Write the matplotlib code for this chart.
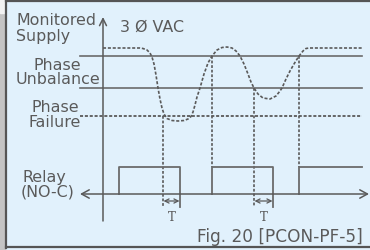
import matplotlib.pyplot as plt
from matplotlib.patches import Rectangle

plt.rcParams['lines.scale_dashes'] = False

# diagram drawn in a 370 x 251 coordinate frame (y grows downward)
supply_t = [103, 140, 143, 147, 150, 152, 154, 156, 158, 160, 162, 164, 167, 172, 178,
            184, 188, 191, 193, 195, 197, 200, 204, 208, 212, 217, 222, 227, 232, 236,
            240, 244, 248, 251, 254, 258, 263, 270, 276, 280, 282, 286, 290, 294, 299,
            303, 306, 309, 362]
supply_v = [49, 49, 49.5, 51, 54, 58, 65, 76, 89, 100, 109, 115, 119.5, 121.5, 122,
            121.5, 120, 117.5, 113, 106, 98, 89, 75, 64, 57, 51, 48.5, 48, 49, 52,
            57, 65, 75, 83, 89, 95, 99, 100, 97, 92, 89, 80, 72, 65, 57,
            52, 49.5, 49, 49]

unbalance_hi = 57
unbalance_lo = 89
failure_lvl = 117
levels_x = (80, 362)

relay_on = [119, 212, 299]
relay_off = [180, 273, 362]
relay_hi, relay_lo = 168, 195

events = [163, 212, 254, 299]          # dotted marker lines
event_top = [117, 57, 89, 57]
event_bottom = [208, 168, 208, 168]
delay_start = [163, 254]
delay_end = [180, 273]

ink = '#5a5a5a'
line_c = '#6b6b6b'
bg = '#e1f1fc'

fig = plt.figure(figsize=(3.70, 2.51), dpi=100)
ax = fig.add_axes([0, 0, 1, 1])
ax.set_xlim(0, 370)
ax.set_ylim(251, 0)
ax.axis('off')

# background and frame
ax.add_patch(Rectangle((0, 0), 370, 251, color=bg, zorder=0))
ax.add_patch(Rectangle((0, 0), 5, 251, color='#c4c4c4', zorder=1))
ax.add_patch(Rectangle((0, 0), 4, 14, color='#f2f2f2', zorder=1))
ax.plot([5.5, 5.5], [1.5, 248.5], color='#555555', lw=1.6, zorder=2)
ax.plot([5.5, 370], [1.5, 1.5], color='#555555', lw=1.6, zorder=2)
ax.plot([5.5, 370], [248, 248], color='#555555', lw=1.6, zorder=2)

# threshold lines
ax.plot(levels_x, [unbalance_hi] * 2, color=line_c, lw=1.2)
ax.plot(levels_x, [unbalance_lo] * 2, color=line_c, lw=1.2)
ax.plot(levels_x, [failure_lvl] * 2, color=ink, lw=1.3, ls=(0, (2.2, 1.3)))

# supply curve
ax.plot(supply_t, supply_v, color=ink, lw=1.2, ls=(0, (2.2, 1.3)))

# event markers
for x, t, b in zip(events, event_top, event_bottom):
    ax.plot([x, x], [t, b], color=ink, lw=1.2, ls=(0, (2, 1.3)))

# vertical axis
ax.annotate('', xy=(103, 18), xytext=(103, 222),
            arrowprops=dict(arrowstyle='->,head_length=0.5,head_width=0.25',
                            color=ink, lw=1.1, shrinkA=0, shrinkB=0))
# relay axis
ax.annotate('', xy=(369, relay_lo), xytext=(80, relay_lo),
            arrowprops=dict(arrowstyle='<->,head_length=0.55,head_width=0.3',
                            color=ink, lw=1.1, shrinkA=0, shrinkB=0))

# relay pulses
for a, b in zip(relay_on, relay_off):
    if b >= 362:
        ax.plot([a, a, b], [relay_lo, relay_hi, relay_hi], color=line_c, lw=1.3)
    else:
        ax.plot([a, a, b, b], [relay_lo, relay_hi, relay_hi, relay_lo], color=line_c, lw=1.3)

# delay T
for a, b in zip(delay_start, delay_end):
    ax.plot([b, b], [relay_lo, 208], color=line_c, lw=1.3)
    ax.annotate('', xy=(b - 0.5, 202), xytext=(a + 0.5, 202),
                arrowprops=dict(arrowstyle='<->,head_length=0.3,head_width=0.15',
                                color=ink, lw=0.9, shrinkA=0, shrinkB=0))
    ax.text((a + b) / 2, 221, 'T', family='DejaVu Serif', fontsize=8.5,
            color=ink, ha='center', va='baseline')

# labels
fs = 11.4
kw = dict(color=ink, fontsize=fs, family='DejaVu Sans', va='baseline')
ax.text(16, 25, 'Monitored', ha='left', **kw)
ax.text(16, 41, 'Supply', ha='left', **kw)
ax.text(120, 32, '3 Ø VAC', ha='left', **kw)
ax.text(57, 70, 'Phase', ha='center', **kw)
ax.text(58, 84, 'Unbalance', ha='center', **kw)
ax.text(55, 112, 'Phase', ha='center', **kw)
ax.text(55, 127, 'Failure', ha='center', **kw)
ax.text(22, 182, 'Relay', ha='left', **kw)
ax.text(21, 197, '(NO-C)', ha='left', **kw)
ax.text(363, 242, 'Fig. 20 [PCON-PF-5]', ha='right', color=ink,
        fontsize=12.2, family='DejaVu Sans', va='baseline')

fig.savefig('out.png', dpi=100, facecolor=bg)
